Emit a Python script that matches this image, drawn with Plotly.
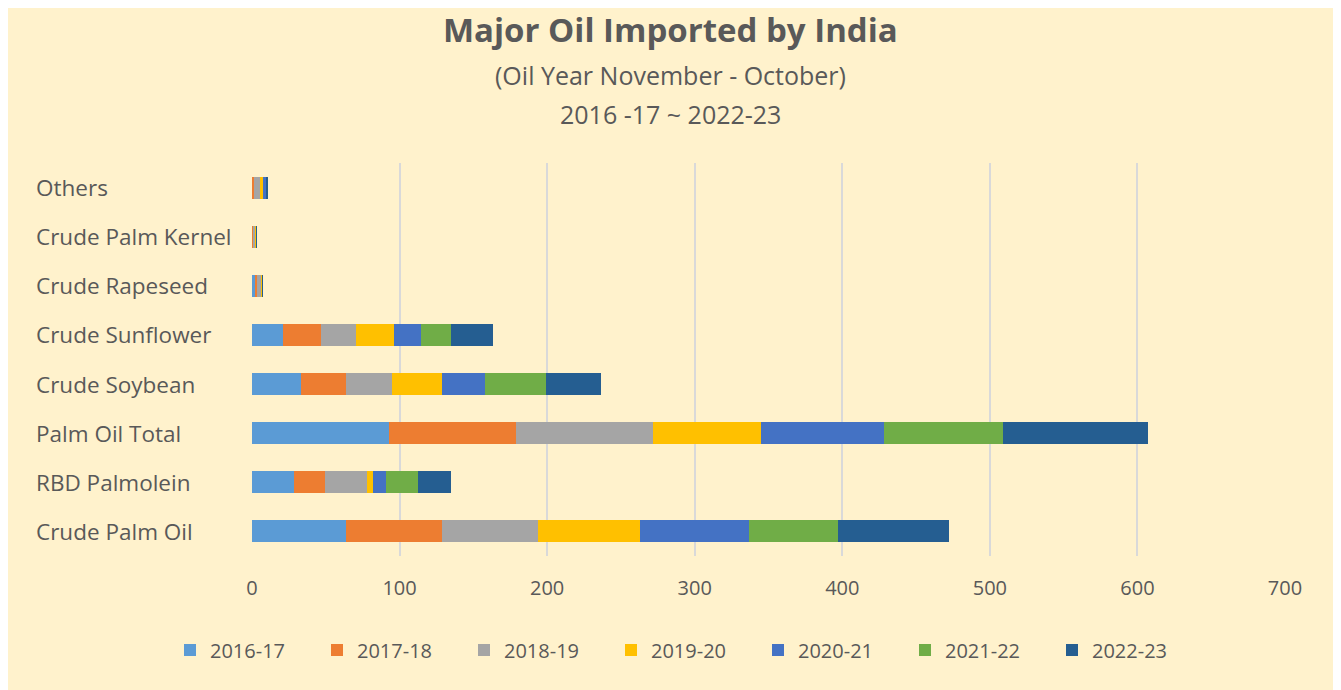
import plotly.graph_objects as go

# categories bottom -> top, as they appear on the chart
categories = ['Crude Palm Oil', 'RBD Palmolein', 'Palm Oil Total', 'Crude Soybean',
              'Crude Sunflower', 'Crude Rapeseed', 'Crude Palm Kernel', 'Others']

years = ['2016-17', '2017-18', '2018-19', '2019-20', '2020-21', '2021-22', '2022-23']

# values, one list per oil year (same order as categories)
y2016_17 = [64, 28.5, 93, 33.3, 21.2, 2.2, 0.3, 0.5]
y2017_18 = [65, 21.3, 86, 30.3, 25.4, 1.5, 0.8, 1.0]
y2018_19 = [65, 28.2, 93, 31.2, 23.8, 2.8, 1.2, 4.5]
y2019_20 = [69, 4.3, 73, 34.2, 25.5, 0.3, 0.5, 1.2]
y2020_21 = [74, 8.2, 83, 28.7, 18.6, 0.2, 0.2, 2.5]
y2021_22 = [60, 21.7, 81, 41.7, 20.4, 0.1, 0.1, 0.3]
y2022_23 = [75, 22.7, 98, 37.3, 28.5, 0.1, 0.1, 0.5]

series = [y2016_17, y2017_18, y2018_19, y2019_20, y2020_21, y2021_22, y2022_23]
colors = ['#5B9BD5', '#ED7D31', '#A5A5A5', '#FFC000', '#4472C4', '#70AD47', '#255E91']

x_ticks = [0, 100, 200, 300, 400, 500, 600, 700]

FONT = 'Open Sans'
GREY = '#595959'

# the page adds an 8px body margin, so the figure sits 8px right/down
OFF = 8
L, R, T, B = 252, 1285, 163, 556        # plot area in screen pixels
plot_w = R - L
plot_h = B - T

fig = go.Figure()
for name, vals, col in zip(years, series, colors):
    fig.add_trace(go.Bar(
        y=categories, x=vals, name=name, orientation='h',
        marker=dict(color=col, line=dict(width=0)),
    ))

# left-aligned category labels, like the original
annotations = [
    dict(text=c, x=(34 - L) / plot_w, xref='paper', y=c, yref='y', xanchor='left',
         showarrow=False, font=dict(family=FONT, size=22.5, color=GREY))
    for c in categories
]

cx = (670 - L) / plot_w
annotations += [
    dict(text='<b>Major Oil Imported by India</b>', x=cx, xref='paper',
         y=(B - 30) / plot_h, yref='paper', yanchor='middle', showarrow=False,
         font=dict(family=FONT, size=33, color=GREY)),
    dict(text='(Oil Year November - October)', x=cx, xref='paper',
         y=(B - 75) / plot_h, yref='paper', yanchor='middle', showarrow=False,
         font=dict(family=FONT, size=25, color=GREY)),
    dict(text='2016 -17 ~ 2022-23', x=cx, xref='paper',
         y=(B - 114) / plot_h, yref='paper', yanchor='middle', showarrow=False,
         font=dict(family=FONT, size=25, color=GREY)),
]

fig.update_layout(
    barmode='stack',
    bargap=0.55,
    width=1341, height=690,
    margin=dict(l=L - OFF, r=1341 - (R - OFF), t=T - OFF, b=690 - (B - OFF)),
    paper_bgcolor='#FFF2CC',
    plot_bgcolor='#FFF2CC',
    font=dict(family=FONT, color=GREY),
    annotations=annotations,
    xaxis=dict(
        range=[0, 700], tickvals=x_ticks, showgrid=True, gridcolor='#D9D9D9',
        gridwidth=1.5, zeroline=False, showline=False,
        tickfont=dict(family=FONT, size=20, color=GREY),
        ticklabelstandoff=18,
    ),
    yaxis=dict(
        categoryorder='array', categoryarray=categories,
        showticklabels=False, showgrid=False, zeroline=False, showline=False,
    ),
    legend=dict(
        orientation='h', x=(170 - L) / plot_w, xanchor='left', y=(B - 650) / plot_h,
        yanchor='middle', entrywidth=102, entrywidthmode='pixels', itemwidth=30,
        font=dict(family=FONT, size=20, color=GREY), traceorder='normal',
        bgcolor='rgba(0,0,0,0)',
    ),
)

fig.write_html('out.html')
